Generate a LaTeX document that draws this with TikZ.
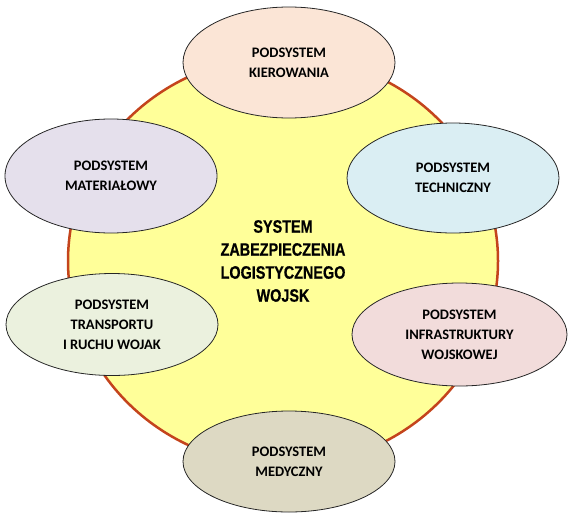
\documentclass[tikz,border=0pt]{standalone}
\usepackage{fontspec}
\setmainfont{Carlito}
\newfontfamily\narrowfont[FakeStretch=0.8,FakeBold=0.6]{Liberation Sans Bold}
\usetikzlibrary{shapes.geometric}
\definecolor{sysfill}{RGB}{255,255,153}
\definecolor{sysline}{RGB}{196,68,28}
\definecolor{kierfill}{RGB}{251,229,214}
\definecolor{techfill}{RGB}{218,238,243}
\definecolor{matfill}{RGB}{229,224,236}
\definecolor{transfill}{RGB}{235,241,222}
\definecolor{infrafill}{RGB}{242,220,219}
\definecolor{medfill}{RGB}{221,217,195}
\begin{document}
\begin{tikzpicture}[x=1pt,y=-1pt,
    sub/.style={ellipse,draw=black!85,line width=0.8pt,inner sep=0pt,
      minimum width=212pt,align=center,
      font=\bfseries\fontsize{14.5}{20}\selectfont},
    sys/.style={ellipse,draw=sysline,line width=2.5pt,fill=sysfill,
      minimum width=430pt,minimum height=410pt,align=center,
      font=\narrowfont\fontsize{18}{23}\selectfont}]
  \useasboundingbox (0,0) rectangle (569,514);
  \node[sys] (sys) at (283,261) {SYSTEM\\ZABEZPIECZENIA\\LOGISTYCZNEGO\\WOJSK};
  \draw
    (289,62.5) node[sub,fill=kierfill,minimum height=111pt] (kier) {PODSYSTEM\\KIEROWANIA}
    (453,178) node[sub,fill=techfill,minimum height=110pt] (tech) {PODSYSTEM\\TECHNICZNY}
    (111,176) node[sub,fill=matfill,minimum height=114pt] (mat) {PODSYSTEM\\MATERIAŁOWY}
    (112,324.5) node[sub,fill=transfill,minimum height=102pt] (trans) {PODSYSTEM\\TRANSPORTU\\I RUCHU WOJAK}
    (459.5,334.5) node[sub,fill=infrafill,minimum width=215pt,minimum height=103pt] (infra) {PODSYSTEM\\INFRASTRUKTURY\\WOJSKOWEJ}
    (289,461.5) node[sub,fill=medfill,minimum height=101pt] (med) {PODSYSTEM\\MEDYCZNY};
\end{tikzpicture}
\end{document}
